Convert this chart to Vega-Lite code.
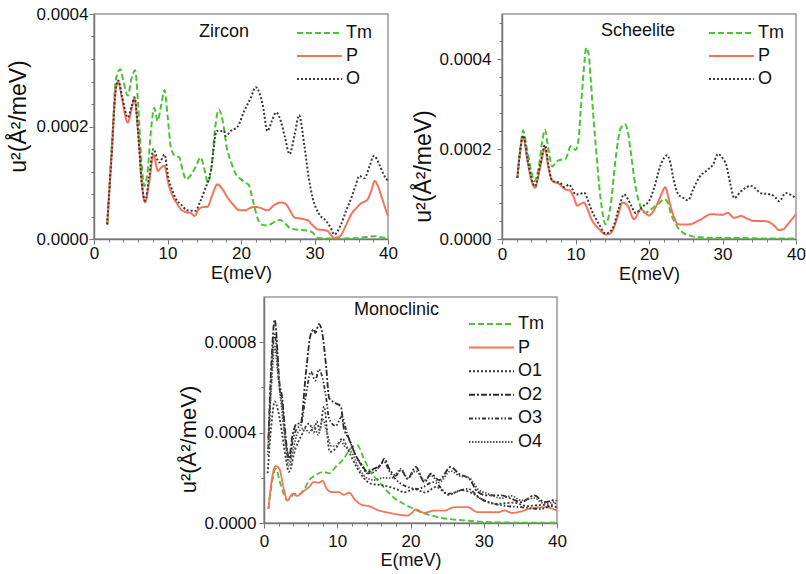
{
  "$schema": "https://vega.github.io/schema/vega-lite/v6.json",
  "padding": {"left": 6, "top": 4, "right": 5, "bottom": 5},
  "background": "white",
  "spacing": 12,
  "datasets": {
    "zircon": [
      {"s": "Tm", "E": 1.8, "u": 0.26e-4}, {"s": "Tm", "E": 2.4, "u": 1.6e-4}, {"s": "Tm", "E": 3.0, "u": 2.85e-4}, {"s": "Tm", "E": 3.6, "u": 3.02e-4},
      {"s": "Tm", "E": 4.0, "u": 2.8e-4}, {"s": "Tm", "E": 4.6, "u": 2.55e-4}, {"s": "Tm", "E": 5.1, "u": 2.85e-4}, {"s": "Tm", "E": 5.6, "u": 3.0e-4},
      {"s": "Tm", "E": 6.0, "u": 2.4e-4}, {"s": "Tm", "E": 6.4, "u": 1.5e-4}, {"s": "Tm", "E": 6.85, "u": 0.94e-4}, {"s": "Tm", "E": 7.3, "u": 1.2e-4},
      {"s": "Tm", "E": 7.8, "u": 2.0e-4}, {"s": "Tm", "E": 8.2, "u": 2.33e-4}, {"s": "Tm", "E": 8.65, "u": 2.1e-4}, {"s": "Tm", "E": 9.1, "u": 2.35e-4},
      {"s": "Tm", "E": 9.6, "u": 2.65e-4}, {"s": "Tm", "E": 10.0, "u": 2.2e-4}, {"s": "Tm", "E": 10.5, "u": 1.6e-4}, {"s": "Tm", "E": 11.0, "u": 1.48e-4},
      {"s": "Tm", "E": 11.6, "u": 1.45e-4}, {"s": "Tm", "E": 12.1, "u": 1.2e-4}, {"s": "Tm", "E": 12.5, "u": 1.06e-4}, {"s": "Tm", "E": 13.2, "u": 1.14e-4},
      {"s": "Tm", "E": 13.9, "u": 1.3e-4}, {"s": "Tm", "E": 14.5, "u": 1.45e-4}, {"s": "Tm", "E": 15.0, "u": 1.25e-4}, {"s": "Tm", "E": 15.5, "u": 1.0e-4},
      {"s": "Tm", "E": 16.0, "u": 1.3e-4}, {"s": "Tm", "E": 16.5, "u": 2.0e-4}, {"s": "Tm", "E": 17.0, "u": 2.3e-4}, {"s": "Tm", "E": 17.5, "u": 2.1e-4},
      {"s": "Tm", "E": 18.1, "u": 1.6e-4}, {"s": "Tm", "E": 18.6, "u": 1.39e-4}, {"s": "Tm", "E": 19.3, "u": 1.15e-4}, {"s": "Tm", "E": 20.0, "u": 1.06e-4},
      {"s": "Tm", "E": 20.6, "u": 1.0e-4}, {"s": "Tm", "E": 21.1, "u": 0.95e-4}, {"s": "Tm", "E": 21.5, "u": 0.75e-4}, {"s": "Tm", "E": 21.8, "u": 0.59e-4},
      {"s": "Tm", "E": 22.3, "u": 0.35e-4}, {"s": "Tm", "E": 22.7, "u": 0.26e-4}, {"s": "Tm", "E": 23.6, "u": 0.24e-4}, {"s": "Tm", "E": 24.5, "u": 0.3e-4},
      {"s": "Tm", "E": 25.3, "u": 0.34e-4}, {"s": "Tm", "E": 26.0, "u": 0.28e-4}, {"s": "Tm", "E": 26.6, "u": 0.2e-4}, {"s": "Tm", "E": 27.5, "u": 0.17e-4},
      {"s": "Tm", "E": 29.0, "u": 0.15e-4}, {"s": "Tm", "E": 29.7, "u": 0.12e-4}, {"s": "Tm", "E": 30.5, "u": 0.02e-4}, {"s": "Tm", "E": 32.0, "u": 0.01e-4},
      {"s": "Tm", "E": 34.0, "u": 0.01e-4}, {"s": "Tm", "E": 36.0, "u": 0.02e-4}, {"s": "Tm", "E": 37.5, "u": 0.04e-4}, {"s": "Tm", "E": 38.2, "u": 0.05e-4},
      {"s": "Tm", "E": 39.0, "u": 0.03e-4}, {"s": "Tm", "E": 40.0, "u": 0.01e-4},
      {"s": "P", "E": 1.8, "u": 0.26e-4}, {"s": "P", "E": 2.4, "u": 1.5e-4}, {"s": "P", "E": 3.0, "u": 2.7e-4}, {"s": "P", "E": 3.3, "u": 2.8e-4},
      {"s": "P", "E": 3.8, "u": 2.5e-4}, {"s": "P", "E": 4.6, "u": 2.07e-4}, {"s": "P", "E": 5.1, "u": 2.3e-4}, {"s": "P", "E": 5.5, "u": 2.5e-4},
      {"s": "P", "E": 6.0, "u": 1.9e-4}, {"s": "P", "E": 6.5, "u": 1.0e-4}, {"s": "P", "E": 6.95, "u": 0.65e-4}, {"s": "P", "E": 7.5, "u": 1.0e-4},
      {"s": "P", "E": 8.1, "u": 1.5e-4}, {"s": "P", "E": 8.7, "u": 1.21e-4}, {"s": "P", "E": 9.2, "u": 1.28e-4}, {"s": "P", "E": 9.6, "u": 1.3e-4},
      {"s": "P", "E": 10.1, "u": 1.0e-4}, {"s": "P", "E": 10.7, "u": 0.76e-4}, {"s": "P", "E": 11.2, "u": 0.65e-4}, {"s": "P", "E": 11.8, "u": 0.53e-4},
      {"s": "P", "E": 12.7, "u": 0.47e-4}, {"s": "P", "E": 13.2, "u": 0.46e-4}, {"s": "P", "E": 13.7, "u": 0.41e-4}, {"s": "P", "E": 14.2, "u": 0.52e-4},
      {"s": "P", "E": 14.6, "u": 0.56e-4}, {"s": "P", "E": 15.5, "u": 0.58e-4}, {"s": "P", "E": 16.0, "u": 0.75e-4}, {"s": "P", "E": 16.8, "u": 0.97e-4},
      {"s": "P", "E": 17.4, "u": 0.9e-4}, {"s": "P", "E": 18.2, "u": 0.73e-4}, {"s": "P", "E": 19.0, "u": 0.6e-4}, {"s": "P", "E": 19.8, "u": 0.51e-4},
      {"s": "P", "E": 20.45, "u": 0.51e-4}, {"s": "P", "E": 21.7, "u": 0.57e-4}, {"s": "P", "E": 22.5, "u": 0.56e-4}, {"s": "P", "E": 23.6, "u": 0.51e-4},
      {"s": "P", "E": 24.5, "u": 0.6e-4}, {"s": "P", "E": 25.4, "u": 0.65e-4}, {"s": "P", "E": 26.1, "u": 0.62e-4}, {"s": "P", "E": 26.7, "u": 0.5e-4},
      {"s": "P", "E": 27.3, "u": 0.38e-4}, {"s": "P", "E": 28.2, "u": 0.36e-4}, {"s": "P", "E": 29.1, "u": 0.33e-4}, {"s": "P", "E": 29.7, "u": 0.25e-4},
      {"s": "P", "E": 30.5, "u": 0.17e-4}, {"s": "P", "E": 31.2, "u": 0.16e-4}, {"s": "P", "E": 31.8, "u": 0.14e-4}, {"s": "P", "E": 32.3, "u": 0.06e-4},
      {"s": "P", "E": 32.7, "u": 0.02e-4}, {"s": "P", "E": 33.2, "u": 0.03e-4}, {"s": "P", "E": 33.6, "u": 0.07e-4}, {"s": "P", "E": 34.3, "u": 0.25e-4},
      {"s": "P", "E": 35.0, "u": 0.44e-4}, {"s": "P", "E": 35.7, "u": 0.55e-4}, {"s": "P", "E": 36.3, "u": 0.63e-4}, {"s": "P", "E": 37.2, "u": 0.7e-4},
      {"s": "P", "E": 37.7, "u": 0.85e-4}, {"s": "P", "E": 38.2, "u": 1.03e-4}, {"s": "P", "E": 38.6, "u": 0.95e-4}, {"s": "P", "E": 39.0, "u": 0.8e-4},
      {"s": "P", "E": 39.5, "u": 0.6e-4}, {"s": "P", "E": 40.0, "u": 0.41e-4},
      {"s": "O", "E": 1.8, "u": 0.26e-4}, {"s": "O", "E": 2.4, "u": 1.5e-4}, {"s": "O", "E": 3.0, "u": 2.7e-4}, {"s": "O", "E": 3.3, "u": 2.82e-4},
      {"s": "O", "E": 3.8, "u": 2.55e-4}, {"s": "O", "E": 4.6, "u": 2.16e-4}, {"s": "O", "E": 5.1, "u": 2.35e-4}, {"s": "O", "E": 5.5, "u": 2.52e-4},
      {"s": "O", "E": 6.0, "u": 1.9e-4}, {"s": "O", "E": 6.5, "u": 1.0e-4}, {"s": "O", "E": 6.95, "u": 0.68e-4}, {"s": "O", "E": 7.5, "u": 1.1e-4},
      {"s": "O", "E": 8.1, "u": 1.6e-4}, {"s": "O", "E": 8.6, "u": 1.42e-4}, {"s": "O", "E": 8.9, "u": 1.36e-4}, {"s": "O", "E": 9.6, "u": 1.5e-4},
      {"s": "O", "E": 10.1, "u": 1.1e-4}, {"s": "O", "E": 10.7, "u": 0.85e-4}, {"s": "O", "E": 11.2, "u": 0.7e-4}, {"s": "O", "E": 11.8, "u": 0.62e-4},
      {"s": "O", "E": 12.7, "u": 0.51e-4}, {"s": "O", "E": 13.8, "u": 0.5e-4}, {"s": "O", "E": 14.4, "u": 0.65e-4}, {"s": "O", "E": 15.0, "u": 0.85e-4},
      {"s": "O", "E": 15.9, "u": 1.21e-4}, {"s": "O", "E": 16.7, "u": 1.92e-4}, {"s": "O", "E": 17.7, "u": 1.92e-4}, {"s": "O", "E": 17.9, "u": 1.83e-4},
      {"s": "O", "E": 18.6, "u": 1.92e-4}, {"s": "O", "E": 19.55, "u": 2.0e-4}, {"s": "O", "E": 20.45, "u": 2.28e-4}, {"s": "O", "E": 21.3, "u": 2.5e-4},
      {"s": "O", "E": 22.0, "u": 2.7e-4}, {"s": "O", "E": 22.5, "u": 2.6e-4}, {"s": "O", "E": 22.95, "u": 2.39e-4}, {"s": "O", "E": 23.6, "u": 1.92e-4},
      {"s": "O", "E": 24.2, "u": 2.1e-4}, {"s": "O", "E": 24.8, "u": 2.25e-4}, {"s": "O", "E": 25.4, "u": 2.1e-4}, {"s": "O", "E": 26.0, "u": 1.8e-4},
      {"s": "O", "E": 26.6, "u": 1.51e-4}, {"s": "O", "E": 27.3, "u": 1.85e-4}, {"s": "O", "E": 27.9, "u": 2.2e-4}, {"s": "O", "E": 28.6, "u": 1.68e-4},
      {"s": "O", "E": 29.2, "u": 1.1e-4}, {"s": "O", "E": 29.75, "u": 0.73e-4}, {"s": "O", "E": 30.65, "u": 0.44e-4}, {"s": "O", "E": 31.6, "u": 0.32e-4},
      {"s": "O", "E": 32.2, "u": 0.2e-4}, {"s": "O", "E": 32.7, "u": 0.08e-4}, {"s": "O", "E": 33.6, "u": 0.26e-4}, {"s": "O", "E": 34.3, "u": 0.5e-4},
      {"s": "O", "E": 35.0, "u": 0.73e-4}, {"s": "O", "E": 35.6, "u": 0.95e-4}, {"s": "O", "E": 36.1, "u": 1.12e-4}, {"s": "O", "E": 36.8, "u": 1.08e-4},
      {"s": "O", "E": 37.5, "u": 1.3e-4}, {"s": "O", "E": 38.1, "u": 1.48e-4}, {"s": "O", "E": 38.8, "u": 1.33e-4}, {"s": "O", "E": 39.4, "u": 1.15e-4},
      {"s": "O", "E": 40.0, "u": 1.03e-4}
    ],
    "scheelite": [
      {"s": "Tm", "E": 2.1, "u": 1.36e-4}, {"s": "Tm", "E": 2.5, "u": 2.0e-4}, {"s": "Tm", "E": 2.86, "u": 2.41e-4}, {"s": "Tm", "E": 3.4, "u": 2.0e-4},
      {"s": "Tm", "E": 4.0, "u": 1.5e-4}, {"s": "Tm", "E": 4.4, "u": 1.28e-4}, {"s": "Tm", "E": 5.0, "u": 1.6e-4}, {"s": "Tm", "E": 5.5, "u": 2.2e-4},
      {"s": "Tm", "E": 5.85, "u": 2.43e-4}, {"s": "Tm", "E": 6.3, "u": 2.0e-4}, {"s": "Tm", "E": 6.85, "u": 1.61e-4}, {"s": "Tm", "E": 7.4, "u": 1.72e-4},
      {"s": "Tm", "E": 7.98, "u": 1.76e-4}, {"s": "Tm", "E": 8.66, "u": 1.78e-4}, {"s": "Tm", "E": 9.34, "u": 2.06e-4}, {"s": "Tm", "E": 10.0, "u": 1.98e-4},
      {"s": "Tm", "E": 10.4, "u": 2.2e-4}, {"s": "Tm", "E": 10.7, "u": 2.83e-4}, {"s": "Tm", "E": 11.1, "u": 3.7e-4}, {"s": "Tm", "E": 11.47, "u": 4.25e-4},
      {"s": "Tm", "E": 11.8, "u": 4.1e-4}, {"s": "Tm", "E": 12.06, "u": 3.57e-4}, {"s": "Tm", "E": 12.4, "u": 2.8e-4}, {"s": "Tm", "E": 12.75, "u": 2.09e-4},
      {"s": "Tm", "E": 13.4, "u": 0.92e-4}, {"s": "Tm", "E": 14.1, "u": 0.33e-4}, {"s": "Tm", "E": 14.8, "u": 0.77e-4}, {"s": "Tm", "E": 15.47, "u": 1.8e-4},
      {"s": "Tm", "E": 16.15, "u": 2.46e-4}, {"s": "Tm", "E": 16.7, "u": 2.55e-4}, {"s": "Tm", "E": 17.1, "u": 2.4e-4}, {"s": "Tm", "E": 17.5, "u": 1.95e-4},
      {"s": "Tm", "E": 18.2, "u": 1.14e-4}, {"s": "Tm", "E": 18.9, "u": 0.7e-4}, {"s": "Tm", "E": 19.5, "u": 0.58e-4}, {"s": "Tm", "E": 20.2, "u": 0.65e-4},
      {"s": "Tm", "E": 21.2, "u": 0.77e-4}, {"s": "Tm", "E": 22.1, "u": 0.88e-4}, {"s": "Tm", "E": 22.6, "u": 0.8e-4}, {"s": "Tm", "E": 23.0, "u": 0.55e-4},
      {"s": "Tm", "E": 23.5, "u": 0.38e-4}, {"s": "Tm", "E": 23.9, "u": 0.26e-4}, {"s": "Tm", "E": 24.7, "u": 0.13e-4}, {"s": "Tm", "E": 25.7, "u": 0.07e-4},
      {"s": "Tm", "E": 27.0, "u": 0.04e-4}, {"s": "Tm", "E": 30.0, "u": 0.02e-4}, {"s": "Tm", "E": 33.0, "u": 0.02e-4}, {"s": "Tm", "E": 36.0, "u": 0.01e-4},
      {"s": "Tm", "E": 38.0, "u": 0.01e-4}, {"s": "Tm", "E": 40.0, "u": 0.01e-4},
      {"s": "P", "E": 2.09, "u": 1.36e-4}, {"s": "P", "E": 2.5, "u": 2.0e-4}, {"s": "P", "E": 2.86, "u": 2.28e-4}, {"s": "P", "E": 3.5, "u": 1.7e-4},
      {"s": "P", "E": 4.0, "u": 1.3e-4}, {"s": "P", "E": 4.49, "u": 1.14e-4}, {"s": "P", "E": 5.2, "u": 1.6e-4}, {"s": "P", "E": 5.85, "u": 2.02e-4},
      {"s": "P", "E": 6.3, "u": 1.6e-4}, {"s": "P", "E": 6.85, "u": 1.29e-4}, {"s": "P", "E": 7.7, "u": 1.23e-4}, {"s": "P", "E": 8.66, "u": 1.1e-4},
      {"s": "P", "E": 9.2, "u": 1.08e-4}, {"s": "P", "E": 9.7, "u": 0.95e-4}, {"s": "P", "E": 10.25, "u": 0.74e-4}, {"s": "P", "E": 10.7, "u": 0.78e-4},
      {"s": "P", "E": 11.15, "u": 0.81e-4}, {"s": "P", "E": 11.6, "u": 0.68e-4}, {"s": "P", "E": 12.06, "u": 0.48e-4}, {"s": "P", "E": 13.2, "u": 0.22e-4},
      {"s": "P", "E": 14.1, "u": 0.1e-4}, {"s": "P", "E": 14.8, "u": 0.13e-4}, {"s": "P", "E": 15.7, "u": 0.48e-4}, {"s": "P", "E": 16.4, "u": 0.81e-4},
      {"s": "P", "E": 17.1, "u": 0.74e-4}, {"s": "P", "E": 17.96, "u": 0.44e-4}, {"s": "P", "E": 18.9, "u": 0.66e-4}, {"s": "P", "E": 19.4, "u": 0.6e-4},
      {"s": "P", "E": 20.0, "u": 0.52e-4}, {"s": "P", "E": 20.6, "u": 0.62e-4}, {"s": "P", "E": 21.2, "u": 0.81e-4}, {"s": "P", "E": 21.7, "u": 1.0e-4},
      {"s": "P", "E": 22.2, "u": 1.15e-4}, {"s": "P", "E": 22.6, "u": 0.95e-4}, {"s": "P", "E": 23.0, "u": 0.69e-4}, {"s": "P", "E": 23.5, "u": 0.45e-4},
      {"s": "P", "E": 23.9, "u": 0.33e-4}, {"s": "P", "E": 24.8, "u": 0.32e-4}, {"s": "P", "E": 25.7, "u": 0.33e-4}, {"s": "P", "E": 26.4, "u": 0.38e-4},
      {"s": "P", "E": 27.1, "u": 0.44e-4}, {"s": "P", "E": 28.4, "u": 0.55e-4}, {"s": "P", "E": 30.0, "u": 0.54e-4}, {"s": "P", "E": 30.7, "u": 0.58e-4},
      {"s": "P", "E": 31.6, "u": 0.47e-4}, {"s": "P", "E": 32.5, "u": 0.51e-4}, {"s": "P", "E": 33.4, "u": 0.45e-4}, {"s": "P", "E": 34.3, "u": 0.4e-4},
      {"s": "P", "E": 35.2, "u": 0.4e-4}, {"s": "P", "E": 36.1, "u": 0.39e-4}, {"s": "P", "E": 37.0, "u": 0.3e-4}, {"s": "P", "E": 37.7, "u": 0.2e-4},
      {"s": "P", "E": 38.3, "u": 0.22e-4}, {"s": "P", "E": 38.9, "u": 0.33e-4}, {"s": "P", "E": 39.5, "u": 0.45e-4}, {"s": "P", "E": 40.0, "u": 0.55e-4},
      {"s": "O", "E": 2.09, "u": 1.36e-4}, {"s": "O", "E": 2.5, "u": 2.0e-4}, {"s": "O", "E": 2.86, "u": 2.3e-4}, {"s": "O", "E": 3.5, "u": 1.75e-4},
      {"s": "O", "E": 4.0, "u": 1.35e-4}, {"s": "O", "E": 4.49, "u": 1.17e-4}, {"s": "O", "E": 5.2, "u": 1.65e-4}, {"s": "O", "E": 5.85, "u": 2.09e-4},
      {"s": "O", "E": 6.3, "u": 1.65e-4}, {"s": "O", "E": 6.85, "u": 1.29e-4}, {"s": "O", "E": 7.9, "u": 1.25e-4}, {"s": "O", "E": 8.5, "u": 1.15e-4},
      {"s": "O", "E": 9.1, "u": 1.21e-4}, {"s": "O", "E": 9.6, "u": 1.1e-4}, {"s": "O", "E": 10.0, "u": 0.99e-4}, {"s": "O", "E": 10.6, "u": 1.0e-4},
      {"s": "O", "E": 11.15, "u": 1.03e-4}, {"s": "O", "E": 11.6, "u": 0.9e-4}, {"s": "O", "E": 12.06, "u": 0.69e-4}, {"s": "O", "E": 13.2, "u": 0.33e-4},
      {"s": "O", "E": 14.1, "u": 0.12e-4}, {"s": "O", "E": 15.0, "u": 0.22e-4}, {"s": "O", "E": 15.9, "u": 0.69e-4}, {"s": "O", "E": 16.6, "u": 0.99e-4},
      {"s": "O", "E": 17.1, "u": 0.9e-4}, {"s": "O", "E": 17.5, "u": 0.77e-4}, {"s": "O", "E": 18.2, "u": 0.58e-4}, {"s": "O", "E": 19.1, "u": 0.72e-4},
      {"s": "O", "E": 20.0, "u": 0.84e-4}, {"s": "O", "E": 20.7, "u": 1.14e-4}, {"s": "O", "E": 21.6, "u": 1.65e-4}, {"s": "O", "E": 22.45, "u": 1.86e-4},
      {"s": "O", "E": 22.9, "u": 1.7e-4}, {"s": "O", "E": 23.3, "u": 1.36e-4}, {"s": "O", "E": 24.0, "u": 0.99e-4}, {"s": "O", "E": 24.6, "u": 0.92e-4},
      {"s": "O", "E": 25.3, "u": 0.86e-4}, {"s": "O", "E": 26.0, "u": 1.1e-4}, {"s": "O", "E": 26.8, "u": 1.36e-4}, {"s": "O", "E": 28.0, "u": 1.54e-4},
      {"s": "O", "E": 28.7, "u": 1.65e-4}, {"s": "O", "E": 29.4, "u": 1.89e-4}, {"s": "O", "E": 30.0, "u": 1.8e-4}, {"s": "O", "E": 30.5, "u": 1.65e-4},
      {"s": "O", "E": 31.1, "u": 1.2e-4}, {"s": "O", "E": 31.6, "u": 0.91e-4}, {"s": "O", "E": 32.5, "u": 1.06e-4}, {"s": "O", "E": 33.9, "u": 1.18e-4},
      {"s": "O", "E": 34.5, "u": 1.12e-4}, {"s": "O", "E": 35.2, "u": 1.02e-4}, {"s": "O", "E": 36.6, "u": 0.99e-4}, {"s": "O", "E": 37.2, "u": 0.92e-4},
      {"s": "O", "E": 37.7, "u": 0.84e-4}, {"s": "O", "E": 38.6, "u": 1.02e-4}, {"s": "O", "E": 39.3, "u": 0.98e-4}, {"s": "O", "E": 40.0, "u": 0.91e-4}
    ],
    "monoclinic": [
      {"s": "Tm", "E": 0.6, "u": 0.62e-4}, {"s": "Tm", "E": 1.1, "u": 1.8e-4}, {"s": "Tm", "E": 1.6, "u": 2.4e-4}, {"s": "Tm", "E": 2.3, "u": 1.67e-4},
      {"s": "Tm", "E": 3.2, "u": 1.0e-4}, {"s": "Tm", "E": 3.6, "u": 1.1e-4}, {"s": "Tm", "E": 4.1, "u": 1.29e-4}, {"s": "Tm", "E": 5.0, "u": 1.29e-4},
      {"s": "Tm", "E": 5.6, "u": 1.55e-4}, {"s": "Tm", "E": 6.15, "u": 1.89e-4}, {"s": "Tm", "E": 7.0, "u": 2.11e-4}, {"s": "Tm", "E": 8.2, "u": 2.26e-4},
      {"s": "Tm", "E": 8.9, "u": 2.2e-4}, {"s": "Tm", "E": 9.8, "u": 2.48e-4}, {"s": "Tm", "E": 10.9, "u": 2.85e-4}, {"s": "Tm", "E": 11.8, "u": 3.3e-4},
      {"s": "Tm", "E": 12.75, "u": 3.45e-4}, {"s": "Tm", "E": 13.5, "u": 2.95e-4}, {"s": "Tm", "E": 14.3, "u": 2.4e-4}, {"s": "Tm", "E": 15.2, "u": 2.0e-4},
      {"s": "Tm", "E": 16.1, "u": 1.67e-4}, {"s": "Tm", "E": 17.0, "u": 1.35e-4}, {"s": "Tm", "E": 17.9, "u": 1.07e-4}, {"s": "Tm", "E": 18.7, "u": 0.92e-4},
      {"s": "Tm", "E": 19.3, "u": 0.8e-4}, {"s": "Tm", "E": 20.3, "u": 0.65e-4}, {"s": "Tm", "E": 21.2, "u": 0.5e-4}, {"s": "Tm", "E": 22.1, "u": 0.4e-4},
      {"s": "Tm", "E": 23.2, "u": 0.3e-4}, {"s": "Tm", "E": 24.4, "u": 0.21e-4}, {"s": "Tm", "E": 26.0, "u": 0.15e-4}, {"s": "Tm", "E": 28.0, "u": 0.1e-4},
      {"s": "Tm", "E": 30.0, "u": 0.05e-4}, {"s": "Tm", "E": 32.0, "u": 0.03e-4}, {"s": "Tm", "E": 35.0, "u": 0.02e-4}, {"s": "Tm", "E": 40.0, "u": 0.01e-4},
      {"s": "P", "E": 0.6, "u": 0.62e-4}, {"s": "P", "E": 1.1, "u": 2.0e-4}, {"s": "P", "E": 1.6, "u": 2.52e-4}, {"s": "P", "E": 2.1, "u": 2.4e-4},
      {"s": "P", "E": 2.7, "u": 1.5e-4}, {"s": "P", "E": 3.2, "u": 1.0e-4}, {"s": "P", "E": 3.9, "u": 1.29e-4}, {"s": "P", "E": 4.56, "u": 1.2e-4},
      {"s": "P", "E": 5.2, "u": 1.37e-4}, {"s": "P", "E": 6.15, "u": 1.59e-4}, {"s": "P", "E": 6.8, "u": 1.81e-4}, {"s": "P", "E": 7.5, "u": 1.78e-4},
      {"s": "P", "E": 8.0, "u": 1.86e-4}, {"s": "P", "E": 8.6, "u": 1.5e-4}, {"s": "P", "E": 9.3, "u": 1.37e-4}, {"s": "P", "E": 10.2, "u": 1.37e-4},
      {"s": "P", "E": 10.9, "u": 1.25e-4}, {"s": "P", "E": 11.6, "u": 1.34e-4}, {"s": "P", "E": 12.5, "u": 1.0e-4}, {"s": "P", "E": 13.4, "u": 0.8e-4},
      {"s": "P", "E": 14.3, "u": 0.75e-4}, {"s": "P", "E": 15.7, "u": 0.55e-4}, {"s": "P", "E": 17.1, "u": 0.45e-4}, {"s": "P", "E": 18.2, "u": 0.38e-4},
      {"s": "P", "E": 19.6, "u": 0.33e-4}, {"s": "P", "E": 20.2, "u": 0.45e-4}, {"s": "P", "E": 20.7, "u": 0.6e-4}, {"s": "P", "E": 21.9, "u": 0.45e-4},
      {"s": "P", "E": 23.2, "u": 0.55e-4}, {"s": "P", "E": 24.6, "u": 0.55e-4}, {"s": "P", "E": 26.0, "u": 0.7e-4}, {"s": "P", "E": 27.8, "u": 0.7e-4},
      {"s": "P", "E": 29.2, "u": 0.48e-4}, {"s": "P", "E": 31.9, "u": 0.48e-4}, {"s": "P", "E": 32.9, "u": 0.55e-4}, {"s": "P", "E": 33.8, "u": 0.45e-4},
      {"s": "P", "E": 35.0, "u": 0.5e-4}, {"s": "P", "E": 36.1, "u": 0.62e-4}, {"s": "P", "E": 38.3, "u": 0.7e-4}, {"s": "P", "E": 39.2, "u": 0.65e-4},
      {"s": "P", "E": 40.0, "u": 0.55e-4},
      {"s": "O1", "E": 0.5, "u": 2.2e-4}, {"s": "O1", "E": 1.0, "u": 4.3e-4}, {"s": "O1", "E": 1.46, "u": 5.38e-4}, {"s": "O1", "E": 1.9, "u": 5.0e-4},
      {"s": "O1", "E": 2.5, "u": 3.9e-4}, {"s": "O1", "E": 3.0, "u": 2.8e-4}, {"s": "O1", "E": 3.4, "u": 2.26e-4}, {"s": "O1", "E": 4.3, "u": 3.3e-4},
      {"s": "O1", "E": 5.0, "u": 3.8e-4}, {"s": "O1", "E": 6.15, "u": 4.4e-4}, {"s": "O1", "E": 6.8, "u": 4.0e-4}, {"s": "O1", "E": 7.2, "u": 4.5e-4},
      {"s": "O1", "E": 7.6, "u": 4.1e-4}, {"s": "O1", "E": 8.2, "u": 5.15e-4}, {"s": "O1", "E": 8.97, "u": 3.15e-4}, {"s": "O1", "E": 9.8, "u": 3.3e-4},
      {"s": "O1", "E": 10.7, "u": 3.74e-4}, {"s": "O1", "E": 11.4, "u": 3.3e-4}, {"s": "O1", "E": 12.5, "u": 2.56e-4}, {"s": "O1", "E": 13.7, "u": 1.96e-4},
      {"s": "O1", "E": 14.6, "u": 1.74e-4}, {"s": "O1", "E": 16.1, "u": 1.67e-4}, {"s": "O1", "E": 18.0, "u": 1.51e-4}, {"s": "O1", "E": 19.2, "u": 1.36e-4},
      {"s": "O1", "E": 20.5, "u": 1.5e-4}, {"s": "O1", "E": 22.0, "u": 1.35e-4}, {"s": "O1", "E": 23.5, "u": 1.6e-4}, {"s": "O1", "E": 25.2, "u": 1.25e-4},
      {"s": "O1", "E": 27.0, "u": 1.45e-4}, {"s": "O1", "E": 28.5, "u": 1.3e-4}, {"s": "O1", "E": 30.0, "u": 1.0e-4}, {"s": "O1", "E": 32.0, "u": 0.85e-4},
      {"s": "O1", "E": 34.0, "u": 0.9e-4}, {"s": "O1", "E": 36.0, "u": 0.75e-4}, {"s": "O1", "E": 38.0, "u": 0.8e-4}, {"s": "O1", "E": 40.0, "u": 0.7e-4},
      {"s": "O2", "E": 0.6, "u": 3.74e-4}, {"s": "O2", "E": 1.0, "u": 7.0e-4}, {"s": "O2", "E": 1.46, "u": 9.0e-4}, {"s": "O2", "E": 1.84, "u": 7.6e-4},
      {"s": "O2", "E": 2.05, "u": 6.4e-4}, {"s": "O2", "E": 2.5, "u": 5.5e-4}, {"s": "O2", "E": 2.9, "u": 4.0e-4}, {"s": "O2", "E": 3.2, "u": 3.15e-4},
      {"s": "O2", "E": 3.4, "u": 2.85e-4}, {"s": "O2", "E": 3.9, "u": 3.9e-4}, {"s": "O2", "E": 4.56, "u": 4.4e-4}, {"s": "O2", "E": 5.0, "u": 4.4e-4},
      {"s": "O2", "E": 5.7, "u": 6.57e-4}, {"s": "O2", "E": 6.38, "u": 8.35e-4}, {"s": "O2", "E": 6.83, "u": 8.57e-4}, {"s": "O2", "E": 7.0, "u": 8.4e-4},
      {"s": "O2", "E": 7.5, "u": 8.8e-4}, {"s": "O2", "E": 7.98, "u": 8.35e-4}, {"s": "O2", "E": 8.5, "u": 6.86e-4}, {"s": "O2", "E": 8.9, "u": 5.52e-4},
      {"s": "O2", "E": 9.8, "u": 5.3e-4}, {"s": "O2", "E": 10.5, "u": 5.15e-4}, {"s": "O2", "E": 10.9, "u": 4.19e-4}, {"s": "O2", "E": 11.6, "u": 3.74e-4},
      {"s": "O2", "E": 12.5, "u": 3.0e-4}, {"s": "O2", "E": 13.4, "u": 2.56e-4}, {"s": "O2", "E": 14.1, "u": 2.26e-4}, {"s": "O2", "E": 15.0, "u": 2.4e-4},
      {"s": "O2", "E": 16.0, "u": 2.6e-4}, {"s": "O2", "E": 16.4, "u": 2.85e-4}, {"s": "O2", "E": 17.1, "u": 2.4e-4}, {"s": "O2", "E": 18.0, "u": 2.1e-4},
      {"s": "O2", "E": 18.7, "u": 2.35e-4}, {"s": "O2", "E": 19.6, "u": 1.95e-4}, {"s": "O2", "E": 20.7, "u": 2.48e-4}, {"s": "O2", "E": 21.9, "u": 1.81e-4},
      {"s": "O2", "E": 22.8, "u": 2.18e-4}, {"s": "O2", "E": 23.9, "u": 1.9e-4}, {"s": "O2", "E": 25.5, "u": 2.48e-4}, {"s": "O2", "E": 26.6, "u": 2.18e-4},
      {"s": "O2", "E": 28.0, "u": 1.96e-4}, {"s": "O2", "E": 29.2, "u": 1.37e-4}, {"s": "O2", "E": 30.5, "u": 1.22e-4}, {"s": "O2", "E": 32.4, "u": 1.22e-4},
      {"s": "O2", "E": 33.8, "u": 1.07e-4}, {"s": "O2", "E": 35.1, "u": 0.92e-4}, {"s": "O2", "E": 36.9, "u": 1.22e-4}, {"s": "O2", "E": 38.3, "u": 0.92e-4},
      {"s": "O2", "E": 39.8, "u": 1.07e-4},
      {"s": "O3", "E": 0.6, "u": 3.3e-4}, {"s": "O3", "E": 1.0, "u": 6.5e-4}, {"s": "O3", "E": 1.46, "u": 8.35e-4}, {"s": "O3", "E": 1.84, "u": 7.2e-4},
      {"s": "O3", "E": 2.05, "u": 6.2e-4}, {"s": "O3", "E": 2.5, "u": 5.2e-4}, {"s": "O3", "E": 2.9, "u": 3.8e-4}, {"s": "O3", "E": 3.2, "u": 3.0e-4},
      {"s": "O3", "E": 3.5, "u": 2.7e-4}, {"s": "O3", "E": 3.9, "u": 3.6e-4}, {"s": "O3", "E": 4.56, "u": 4.2e-4}, {"s": "O3", "E": 5.0, "u": 4.3e-4},
      {"s": "O3", "E": 5.7, "u": 5.6e-4}, {"s": "O3", "E": 6.4, "u": 6.7e-4}, {"s": "O3", "E": 7.0, "u": 6.3e-4}, {"s": "O3", "E": 7.5, "u": 6.8e-4},
      {"s": "O3", "E": 8.0, "u": 6.4e-4}, {"s": "O3", "E": 8.5, "u": 5.5e-4}, {"s": "O3", "E": 8.9, "u": 4.6e-4}, {"s": "O3", "E": 9.8, "u": 4.3e-4},
      {"s": "O3", "E": 10.6, "u": 4.7e-4}, {"s": "O3", "E": 11.4, "u": 3.9e-4}, {"s": "O3", "E": 12.5, "u": 3.0e-4}, {"s": "O3", "E": 13.4, "u": 2.5e-4},
      {"s": "O3", "E": 14.1, "u": 2.2e-4}, {"s": "O3", "E": 15.0, "u": 2.25e-4}, {"s": "O3", "E": 16.4, "u": 2.7e-4}, {"s": "O3", "E": 17.1, "u": 2.3e-4},
      {"s": "O3", "E": 18.7, "u": 1.74e-4}, {"s": "O3", "E": 21.0, "u": 1.51e-4}, {"s": "O3", "E": 23.2, "u": 1.81e-4}, {"s": "O3", "E": 25.1, "u": 1.29e-4},
      {"s": "O3", "E": 27.8, "u": 1.51e-4}, {"s": "O3", "E": 29.6, "u": 1.07e-4}, {"s": "O3", "E": 32.4, "u": 0.78e-4}, {"s": "O3", "E": 35.1, "u": 0.7e-4},
      {"s": "O3", "E": 37.8, "u": 0.62e-4}, {"s": "O3", "E": 39.6, "u": 0.85e-4}, {"s": "O3", "E": 40.0, "u": 0.9e-4},
      {"s": "O4", "E": 0.5, "u": 3.0e-4}, {"s": "O4", "E": 1.0, "u": 6.0e-4}, {"s": "O4", "E": 1.46, "u": 7.8e-4}, {"s": "O4", "E": 1.9, "u": 6.6e-4},
      {"s": "O4", "E": 2.5, "u": 4.8e-4}, {"s": "O4", "E": 3.0, "u": 3.4e-4}, {"s": "O4", "E": 3.4, "u": 2.5e-4}, {"s": "O4", "E": 4.0, "u": 3.3e-4},
      {"s": "O4", "E": 4.6, "u": 4.0e-4}, {"s": "O4", "E": 5.5, "u": 4.2e-4}, {"s": "O4", "E": 6.2, "u": 4.0e-4}, {"s": "O4", "E": 6.8, "u": 4.3e-4},
      {"s": "O4", "E": 7.4, "u": 3.9e-4}, {"s": "O4", "E": 8.0, "u": 4.6e-4}, {"s": "O4", "E": 8.6, "u": 4.0e-4}, {"s": "O4", "E": 9.2, "u": 3.4e-4},
      {"s": "O4", "E": 9.8, "u": 3.4e-4}, {"s": "O4", "E": 10.5, "u": 3.6e-4}, {"s": "O4", "E": 11.0, "u": 3.4e-4}, {"s": "O4", "E": 12.0, "u": 3.1e-4},
      {"s": "O4", "E": 13.0, "u": 2.4e-4}, {"s": "O4", "E": 14.0, "u": 2.0e-4}, {"s": "O4", "E": 15.0, "u": 1.9e-4}, {"s": "O4", "E": 16.4, "u": 2.0e-4},
      {"s": "O4", "E": 17.5, "u": 2.0e-4}, {"s": "O4", "E": 18.7, "u": 2.4e-4}, {"s": "O4", "E": 19.6, "u": 2.0e-4}, {"s": "O4", "E": 20.7, "u": 2.3e-4},
      {"s": "O4", "E": 21.9, "u": 1.9e-4}, {"s": "O4", "E": 22.8, "u": 2.1e-4}, {"s": "O4", "E": 23.9, "u": 1.8e-4}, {"s": "O4", "E": 25.5, "u": 2.3e-4},
      {"s": "O4", "E": 26.6, "u": 2.1e-4}, {"s": "O4", "E": 28.0, "u": 2.0e-4}, {"s": "O4", "E": 29.2, "u": 1.5e-4}, {"s": "O4", "E": 30.5, "u": 1.3e-4},
      {"s": "O4", "E": 32.4, "u": 1.1e-4}, {"s": "O4", "E": 33.8, "u": 1.2e-4}, {"s": "O4", "E": 35.1, "u": 1.0e-4}, {"s": "O4", "E": 36.9, "u": 1.1e-4},
      {"s": "O4", "E": 38.3, "u": 0.85e-4}, {"s": "O4", "E": 40.0, "u": 1.0e-4}
    ]
  },
  "resolve": {
    "scale": {"color": "independent", "strokeDash": "independent"},
    "legend": {"color": "independent", "strokeDash": "independent"}
  },
  "vconcat": [
    {
      "bounds": "flush",
      "spacing": 114,
      "resolve": {
        "scale": {"color": "independent", "strokeDash": "independent"},
        "legend": {"color": "independent", "strokeDash": "independent"}
      },
      "hconcat": [
        {
          "width": 294,
          "height": 225,
          "title": {"text": "Zircon", "anchor": "start", "frame": "group", "dx": 105, "offset": -36},
          "data": {"name": "zircon"},
          "mark": {"type": "line", "interpolate": "monotone", "strokeWidth": 2},
          "encoding": {
            "x": {
              "field": "E", "type": "quantitative",
              "scale": {"domain": [0, 40], "nice": false, "zero": false},
              "axis": {
                "title": "E(meV)",
                "values": [0, 2, 4, 6, 8, 10, 12, 14, 16, 18, 20, 22, 24, 26, 28, 30, 32, 34, 36, 38, 40],
                "labelExpr": "datum.value % 10 === 0 ? datum.label : ''",
                "tickSize": {"condition": {"test": "datum.value % 10 === 0", "value": 5}, "value": 3},
                "labelPadding": 1, "titlePadding": 3
              }
            },
            "y": {
              "field": "u", "type": "quantitative",
              "scale": {"domain": [0, 0.0004], "nice": false},
              "axis": {
                "title": "u²(Å²/meV)",
                "titleFontSize": 23,
                "titleY": 102,
                "values": [0, 0.00004, 0.00008, 0.00012, 0.00016, 0.0002, 0.00024, 0.00028, 0.00032, 0.00036, 0.0004],
                "labelExpr": "round(datum.value * 100000) % 20 === 0 ? format(datum.value, '.4f') : ''",
                "tickSize": {"condition": {"test": "round(datum.value * 100000) % 20 === 0", "value": 5}, "value": 3},
                "labelPadding": 1, "titlePadding": 6
              }
            },
            "color": {
              "field": "s", "type": "nominal",
              "scale": {"domain": ["Tm", "P", "O"], "range": ["#4cc236", "#f4735a", "#3a3a3a"]},
              "legend": {"title": null, "legendX": 202, "legendY": 9, "rowPadding": 4}
            },
            "strokeDash": {
              "field": "s", "type": "nominal",
              "scale": {"domain": ["Tm", "P", "O"], "range": [[6, 3], [1, 0], [2, 2]]},
              "legend": {"title": null, "legendX": 202, "legendY": 9, "rowPadding": 4}
            }
          }
        },
        {
          "width": 294,
          "height": 225,
          "title": {"text": "Scheelite", "anchor": "start", "frame": "group", "dx": 99, "offset": -26},
          "data": {"name": "scheelite"},
          "mark": {"type": "line", "interpolate": "monotone", "strokeWidth": 2},
          "encoding": {
            "x": {
              "field": "E", "type": "quantitative",
              "scale": {"domain": [0, 40], "nice": false, "zero": false},
              "axis": {
                "title": "E(meV)",
                "values": [0, 2, 4, 6, 8, 10, 12, 14, 16, 18, 20, 22, 24, 26, 28, 30, 32, 34, 36, 38, 40],
                "labelExpr": "datum.value % 10 === 0 ? datum.label : ''",
                "tickSize": {"condition": {"test": "datum.value % 10 === 0", "value": 5}, "value": 3},
                "labelPadding": 2, "titlePadding": 3
              }
            },
            "y": {
              "field": "u", "type": "quantitative",
              "scale": {"domain": [0, 0.0005], "nice": false},
              "axis": {
                "title": "u²(Å²/meV)",
                "titleFontSize": 23,
                "titleY": 152,
                "values": [0, 0.00004, 0.00008, 0.00012, 0.00016, 0.0002, 0.00024, 0.00028, 0.00032, 0.00036, 0.0004, 0.00044, 0.00048],
                "labelExpr": "round(datum.value * 100000) % 20 === 0 ? format(datum.value, '.4f') : ''",
                "tickSize": {"condition": {"test": "round(datum.value * 100000) % 20 === 0", "value": 5}, "value": 3},
                "labelPadding": 6, "titlePadding": 4
              }
            },
            "color": {
              "field": "s", "type": "nominal",
              "scale": {"domain": ["Tm", "P", "O"], "range": ["#4cc236", "#f4735a", "#3a3a3a"]},
              "legend": {"title": null, "legendX": 206, "legendY": 9, "rowPadding": 4}
            },
            "strokeDash": {
              "field": "s", "type": "nominal",
              "scale": {"domain": ["Tm", "P", "O"], "range": [[6, 3], [1, 0], [2, 2]]},
              "legend": {"title": null, "legendX": 206, "legendY": 9, "rowPadding": 4}
            }
          }
        }
      ]
    },
    {
      "bounds": "flush",
      "spacing": 114,
      "resolve": {
        "scale": {"color": "independent", "strokeDash": "independent"},
        "legend": {"color": "independent", "strokeDash": "independent"}
      },
      "hconcat": [
        {
          "width": 56,
          "height": 226,
          "view": {"stroke": null},
          "data": {"values": []},
          "mark": {"type": "point", "opacity": 0},
          "encoding": {}
        },
        {
          "width": 293,
          "height": 226,
          "title": {"text": "Monoclinic", "anchor": "start", "frame": "group", "dx": 90, "offset": -22},
          "data": {"name": "monoclinic"},
          "mark": {"type": "line", "interpolate": "monotone", "strokeWidth": 1.8},
          "encoding": {
            "x": {
              "field": "E", "type": "quantitative",
              "scale": {"domain": [0, 40], "nice": false, "zero": false},
              "axis": {
                "title": "E(meV)",
                "values": [0, 2, 4, 6, 8, 10, 12, 14, 16, 18, 20, 22, 24, 26, 28, 30, 32, 34, 36, 38, 40],
                "labelExpr": "datum.value % 10 === 0 ? datum.label : ''",
                "tickSize": {"condition": {"test": "datum.value % 10 === 0", "value": 5}, "value": 3},
                "labelPadding": 5, "titlePadding": 2
              }
            },
            "y": {
              "field": "u", "type": "quantitative",
              "scale": {"domain": [0, 0.001], "nice": false},
              "axis": {
                "title": "u²(Å²/meV)",
                "titleFontSize": 22,
                "titleY": 142,
                "values": [0, 0.0002, 0.0004, 0.0006, 0.0008],
                "labelExpr": "round(datum.value * 10000) % 4 === 0 ? format(datum.value, '.4f') : ''",
                "tickSize": {"condition": {"test": "round(datum.value * 10000) % 4 === 0", "value": 5}, "value": 3},
                "labelPadding": 3, "titlePadding": 4
              }
            },
            "color": {
              "field": "s", "type": "nominal",
              "scale": {"domain": ["Tm", "P", "O1", "O2", "O3", "O4"], "range": ["#4cc236", "#f4735a", "#3a3a3a", "#2a2a2a", "#333333", "#555555"]},
              "legend": {"title": null, "legendX": 204, "legendY": 17, "rowPadding": 4.6}
            },
            "strokeDash": {
              "field": "s", "type": "nominal",
              "scale": {"domain": ["Tm", "P", "O1", "O2", "O3", "O4"], "range": [[6, 3], [1, 0], [2, 2], [6, 2, 2, 2], [4, 2, 1.5, 2, 1.5, 2], [1.5, 1.5]]},
              "legend": {"title": null, "legendX": 204, "legendY": 17, "rowPadding": 4.6}
            }
          }
        }
      ]
    }
  ],
  "config": {
    "font": "Liberation Sans",
    "view": {"stroke": "#9a9a9a", "strokeWidth": 1.5},
    "title": {"fontSize": 18, "fontWeight": "normal", "color": "#111", "font": "Liberation Sans"},
    "axis": {
      "grid": false,
      "domainColor": "#777",
      "domainWidth": 1.5,
      "tickColor": "#777",
      "tickWidth": 1,
      "labelFont": "Liberation Sans",
      "labelFontSize": 17,
      "labelColor": "#111",
      "labelOverlap": false,
      "labelFlush": false,
      "titleFont": "Liberation Sans",
      "titleFontSize": 18,
      "titleFontWeight": "normal",
      "titleColor": "#111"
    },
    "legend": {
      "orient": "none",
      "padding": 0,
      "labelFont": "Liberation Sans",
      "labelFontSize": 18,
      "labelColor": "#111",
      "symbolType": "M-1,0H4",
      "symbolSize": 324,
      "symbolStrokeWidth": 2,
      "symbolFillColor": "transparent",
      "labelOffset": 30,
      "rowPadding": 3
    }
  }
}
